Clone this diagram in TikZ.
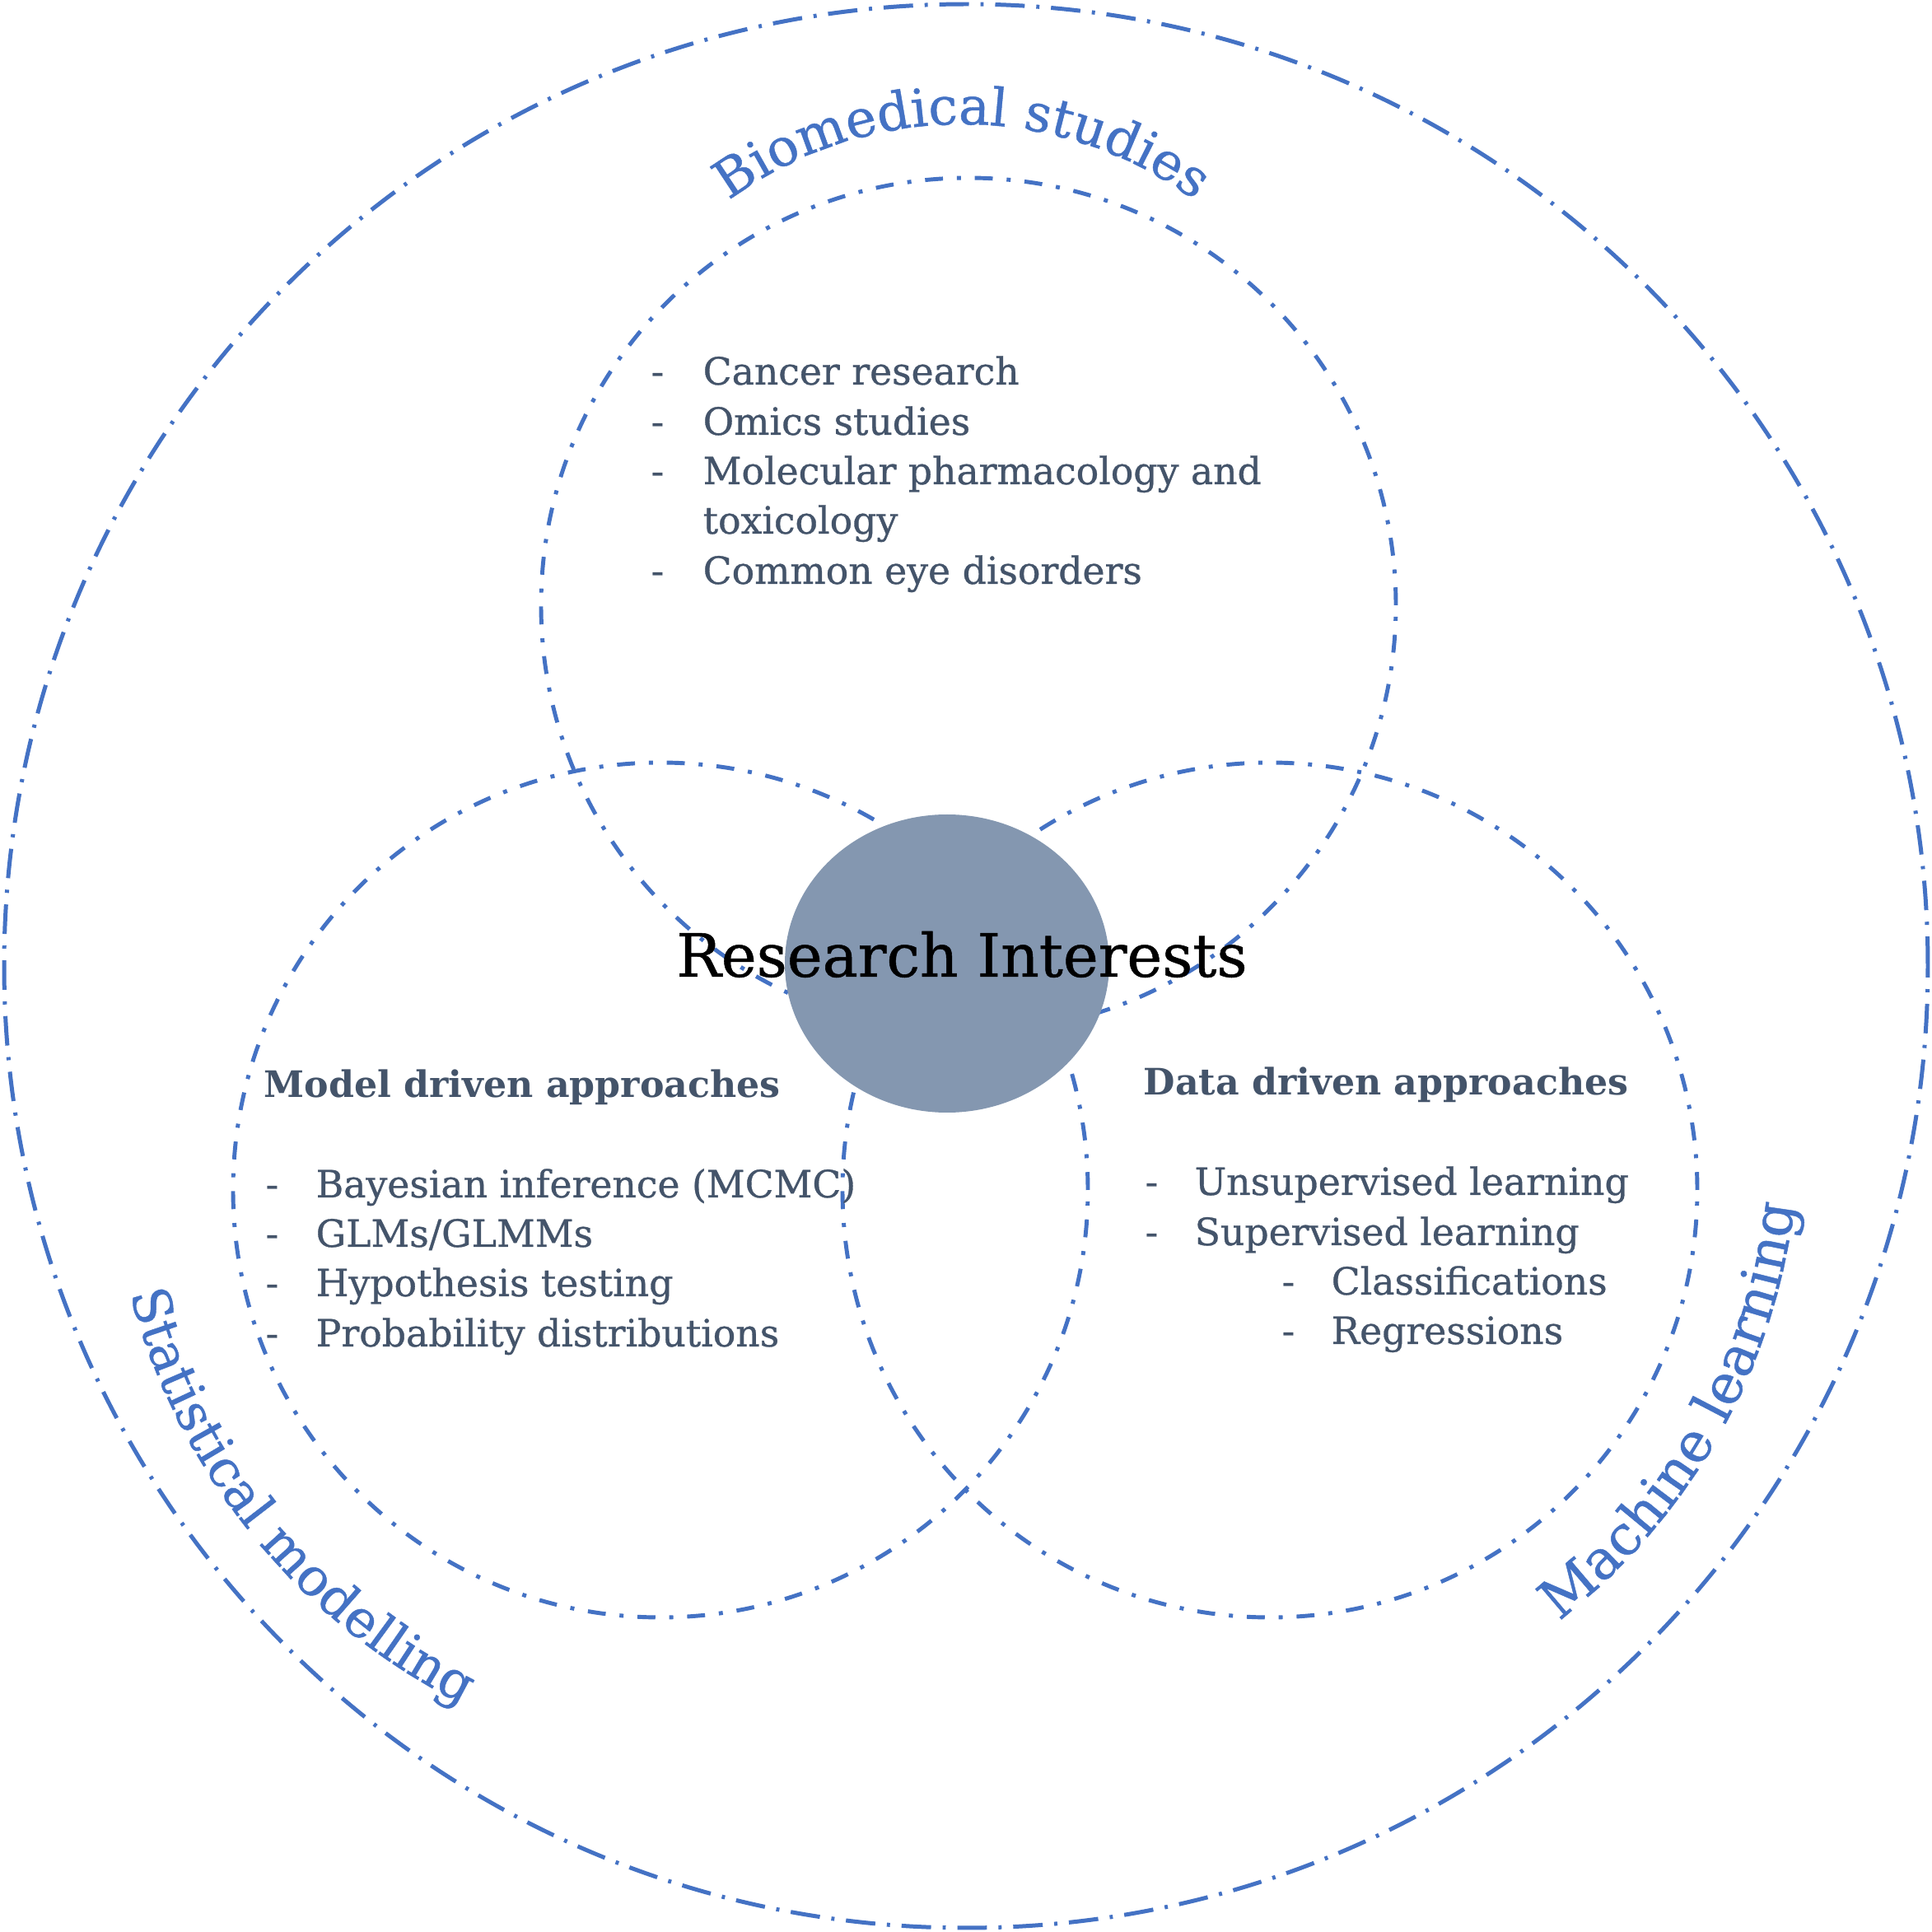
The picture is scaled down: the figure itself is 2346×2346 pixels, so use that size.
\documentclass[tikz,border=0pt]{standalone}
\usepackage{fontspec}
\setmainfont{DejaVu Serif}
\newfontfamily\heavyserif{DejaVu Serif}[FakeBold=0.7]
\usetikzlibrary{shapes.geometric,decorations.text}
\definecolor{mblue}{HTML}{4472C4}
\definecolor{slate}{HTML}{44546A}
\definecolor{corefill}{HTML}{8497B0}
\newcommand{\listfont}{\heavyserif\fontsize{13}{15}\selectfont}
\newcommand{\headfont}{\fontsize{12.6}{14}\selectfont\bfseries}
\newcommand{\labfont}{\heavyserif\fontsize{18}{20}\selectfont}
\newcommand{\labfontb}{\heavyserif\fontsize{19}{21}\selectfont}
\begin{document}
\begin{tikzpicture}[x=0.1mm,y=0.1mm,
  outerring/.style={circle, draw=mblue, line width=1.42pt,
    dash pattern=on 10.2pt off 4pt on 1.1pt off 4pt, minimum size=233.6mm, inner sep=0pt},
  ring/.style={circle, draw=mblue, line width=1.4pt,
    dash pattern=on 6.2pt off 4.8pt on 1.4pt off 4.8pt, minimum size=103.8mm, inner sep=0pt},
  item/.style={anchor=base west, inner sep=0pt, text=slate, font=\listfont},
  head/.style={anchor=base west, inner sep=0pt, text=slate, font=\headfont},
  ]
\useasboundingbox (0,0) rectangle (2346,2346);

\node[outerring] (outer) at (1173,1173) {};
\node[ring] (bio) at (1176,1611) {};
\node[ring] (stat) at (802,901) {};
\node[ring] (ml) at (1542,901) {};
\node[ellipse, fill=corefill, minimum width=39.4mm, minimum height=36.2mm, inner sep=0pt] (core) at (1150,1176) {};
\node[anchor=base, inner sep=0pt, font=\heavyserif\fontsize{20.6}{24}\selectfont] (title) at (1168,1160) {Research Interests};

% curved labels
\path[decorate, decoration={text along path, text align=center, text color=mblue,
  text={|\labfont|Biomedical studies}}] (1168,1716) ++(160:479) arc[start angle=160, end angle=20, radius=479];
\path[decorate, decoration={text along path, text align=center, text color=mblue,
  text={|\labfont|Statistical modelling}}] (910,971) ++(159:777) arc[start angle=159, end angle=279, radius=777];
\path[decorate, decoration={text along path, text align=center, text color=mblue,
  text={|\labfontb|Machine learning}}] (1434,971) ++(-89.5:750) arc[start angle=-89.5, end angle=30.5, radius=750];

% Biomedical list
\node[item] (b1d) at (790,1879) {-}; \node[item] (b1) at (853,1879) {Cancer research};
\node[item] (b2d) at (790,1818) {-}; \node[item] (b2) at (853,1818) {Omics studies};
\node[item] (b3d) at (790,1758) {-}; \node[item] (b3) at (853,1758) {Molecular pharmacology and};
\node[item] (b3b) at (853,1698) {toxicology};
\node[item] (b4d) at (790,1637) {-}; \node[item] (b4) at (853,1637) {Common eye disorders};

% Model driven
\node[head] (mh) at (320,1013) {Model driven approaches};
\node[item] (m1d) at (322,892) {-}; \node[item] (m1) at (383,892) {Bayesian inference (MCMC)};
\node[item] (m2d) at (322,832) {-}; \node[item] (m2) at (383,832) {GLMs/GLMMs};
\node[item] (m3d) at (322,772) {-}; \node[item] (m3) at (383,772) {Hypothesis testing};
\node[item] (m4d) at (322,711) {-}; \node[item] (m4) at (383,711) {Probability distributions};

% Data driven
\node[head] (dh) at (1388,1016) {Data driven approaches};
\node[item] (d1d) at (1390,895) {-}; \node[item] (d1) at (1450,895) {Unsupervised learning};
\node[item] (d2d) at (1390,834) {-}; \node[item] (d2) at (1450,834) {Supervised learning};
\node[item] (d3d) at (1556,774) {-}; \node[item] (d3) at (1616,774) {Classifications};
\node[item] (d4d) at (1556,714) {-}; \node[item] (d4) at (1616,714) {Regressions};
\end{tikzpicture}
\end{document}
